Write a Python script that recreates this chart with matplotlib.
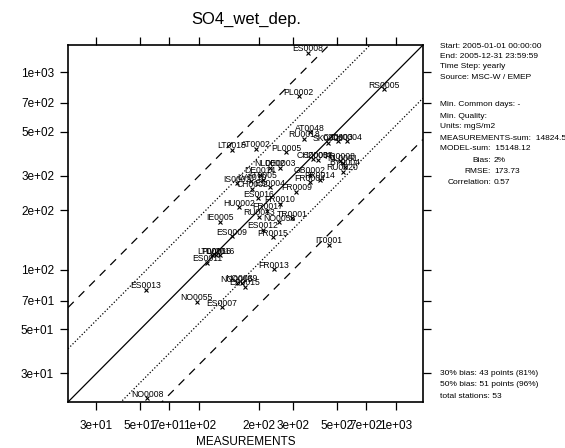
import matplotlib
matplotlib.use("Agg")
import matplotlib.pyplot as plt
import numpy as np

plt.rcParams['font.family'] = ['Liberation Sans', 'DejaVu Sans']

stations = ["ES0008", "PL0002", "RS0005", "AT0048", "RU0018",
            "SK0006", "CZ0003", "CH0004", "LT0015", "AT0002",
            "PL0005", "CH0005", "CZ0005", "FR0008", "NL0091",
            "BY0004", "RU0020", "NL0002", "DE0003", "GB0002",
            "DE0014", "IS0002", "LV0010", "AT0005", "FR0004",
            "FR0014", "CH0002", "ES0004", "FR0009", "ES0016",
            "FR0010", "HU0002", "FR0017", "RU0013", "TR0001",
            "NO0056", "IE0005", "ES0012", "ES0009", "FR0015",
            "IT0001", "LT0016", "PL0016", "LV0016", "ES0011",
            "FR0013", "NO0015", "NO0039", "ES0015", "ES0013",
            "NO0055", "ES0007", "NO0008"]
measured = [356, 320, 872, 364, 339,
            449, 504, 560, 146, 195,
            277, 378, 399, 516, 535,
            547, 535, 228, 256, 364,
            203, 155, 184, 210, 364,
            409, 186, 228, 311, 199,
            256, 159, 222, 201, 297,
            254, 128, 211, 146, 237,
            457, 116, 122, 127, 110,
            239, 155, 164, 170, 53.3,
            97, 130, 54.5]
modelled = [1254, 756, 817, 495, 461,
            440, 446, 446, 406, 409,
            393, 364, 361, 357, 349,
            333, 314, 329, 329, 303,
            303, 275, 281, 286, 277,
            286, 257, 261, 249, 231,
            216, 208, 199, 186, 183,
            174, 175, 160, 148, 146,
            134, 119, 119, 119, 109,
            101, 85.8, 86.3, 82.4, 79.3,
            69.2, 64.8, 22.4]

tick_vals = [30, 50, 70, 100, 200, 300, 500, 700, 1000]
tick_labels = ["3e+01", "5e+01", "7e+01", "1e+02", "2e+02", "3e+02",
               "5e+02", "7e+02", "1e+03"]
lims = (21.5, 1370)

info_top = ["Start: 2005-01-01 00:00:00", "End: 2005-12-31 23:59:59",
            "Time Step: yearly", "Source: MSC-W / EMEP"]
info_mid = ["Min. Common days: -", "Min. Quality:", "Units: mgS/m2",
            "MEASUREMENTS-sum:  14824.5", "MODEL-sum:  15148.12"]
stats = [("Bias:", "2%"), ("RMSE:", "173.73"), ("Correlation:", "0.57")]
info_bottom = ["30% bias: 43 points (81%)", "50% bias: 51 points (96%)",
               "total stations: 53"]

W, H = 565, 448
fig = plt.figure(figsize=(W / 100, H / 100), dpi=100)
ax = fig.add_axes([68 / W, 1 - 402 / H, 355 / W, 357 / H])
ax.set_xscale("log")
ax.set_yscale("log")
ax.set_xlim(lims)
ax.set_ylim(lims)

xs = np.array(lims)
ax.plot(xs, xs, color="black", lw=0.9)
for f in (13 / 7, 7 / 13):
    ax.plot(xs, xs * f, color="black", lw=0.9, dashes=(1, 1.6))
for f in (3, 1 / 3):
    ax.plot(xs, xs * f, color="black", lw=0.9, dashes=(6.5, 5.5))

ax.plot(measured, modelled, "x", color="black", ms=3.5, mew=0.8)
for name, mx, my in zip(stations, measured, modelled):
    ax.annotate(name, (mx, my), xytext=(0, 1), textcoords="offset points",
                ha="center", va="baseline", fontsize=6.2)

ax.minorticks_off()
ax.set_xticks(tick_vals)
ax.set_xticklabels(tick_labels)
ax.set_yticks(tick_vals)
ax.set_yticklabels(tick_labels)
ax.tick_params(axis="both", which="major", direction="out", length=6,
               width=0.9, labelsize=8.5, top=True, right=True)
ax.tick_params(axis="x", pad=7)
ax.tick_params(axis="y", pad=4)
for sp in ax.spines.values():
    sp.set_linewidth(1.2)

ax.set_xlabel("MEASUREMENTS", fontsize=8.5, labelpad=3)
fig.text(246 / W, 1 - 19 / H, "SO4_wet_dep.", ha="center", va="center",
         fontsize=12)

tx = 440 / W
for i, s in enumerate(info_top):
    fig.text(tx, 1 - (46 + i * 10.4) / H, s, va="center", fontsize=6)
for i, s in enumerate(info_mid):
    fig.text(tx, 1 - (105 + i * 11) / H, s, va="center", fontsize=6)
for i, (lab, val) in enumerate(stats):
    y = 1 - (160 + i * 11) / H
    fig.text(491 / W, y, lab, ha="right", va="center", fontsize=6)
    fig.text(494 / W, y, val, ha="left", va="center", fontsize=6)
for i, s in enumerate(info_bottom):
    fig.text(tx, 1 - (373 + i * 11.5) / H, s, va="center", fontsize=6)

fig.savefig("out.png", dpi=100)
